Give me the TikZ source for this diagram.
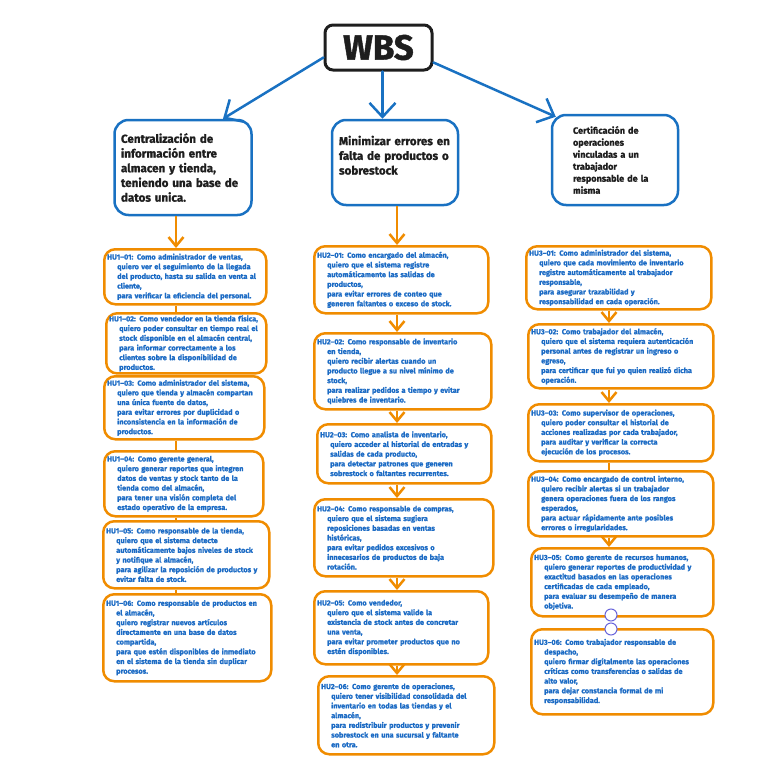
\documentclass[tikz,border=0pt]{standalone}
\usepackage{fontspec}
\setmainfont{Fira Sans}[BoldFeatures={FakeBold=1.2}]
\usetikzlibrary{arrows.meta, positioning}

\definecolor{wbsblue}{HTML}{1971C2}
\definecolor{huorange}{HTML}{F08C00}
\definecolor{hublue}{HTML}{1C6BC4}
\definecolor{inkblack}{HTML}{1E1E1E}
\definecolor{handleviolet}{HTML}{6965DB}
\newcommand{\hutab}{\hspace*{10pt}}

\begin{document}
\begin{tikzpicture}[x=1pt, y=-1pt,
  wbsbox/.style={draw=inkblack, line width=3pt, rounded corners=8pt, fill=white,
    text=inkblack, font=\bfseries\fontsize{35}{35}\selectfont},
  topbox/.style={draw=wbsblue, line width=2.5pt, rounded corners=14pt, align=left,
    text=inkblack, font=\bfseries\fontsize{11.6}{14.7}\selectfont},
  hubox/.style={draw=huorange, line width=2.5pt, rounded corners=11pt, align=left,
    anchor=north west, inner xsep=3pt, inner ysep=2pt, text=hublue,
    font=\bfseries\fontsize{7.3}{9.7}\selectfont},
  bluearrow/.style={wbsblue, line width=2.5pt, line cap=round,
    -{Straight Barb[length=14pt, width=26pt]}},
  orangearrow/.style={huorange, line width=2.5pt,
    -{Straight Barb[length=9pt, width=15pt]}},
  orangeline/.style={huorange, line width=2.5pt},
  handle/.style={circle, draw=handleviolet, line width=1pt, fill=white,
    minimum size=12pt, inner sep=0pt}]
  \useasboundingbox (0,0) rectangle (772,771);

  % Root and the three goals
  \node[wbsbox, minimum width=107, minimum height=45] (wbs) at (378.5,47.5) {WBS};
  \node[topbox, text width=124, minimum width=137, minimum height=95] (hua) at (183,167.5)
    {Centralización de\\información entre\\almacen y tienda,\\teniendo una base de\\datos unica.};
  \node[topbox, text width=112, minimum width=126, minimum height=85] (hub) at (395,162.5)
    {Minimizar errores en\\falta de productos o\\sobrestock\\ \mbox{}};
  \node[topbox, text width=84, minimum width=126, minimum height=90,
    font=\bfseries\fontsize{9.1}{12}\selectfont] (huc) at (615,160)
    {Certificación de\\operaciones\\vinculadas a un\\trabajador\\responsable de la\\misma};

  \draw[bluearrow] ([yshift=-10pt]wbs.west) -- ([xshift=40pt]hua.north);
  \draw[bluearrow] ([xshift=4pt]wbs.south) -- ([xshift=4pt]wbs.south |- hub.north);
  \draw[bluearrow] ([yshift=-15pt]wbs.east) -- ([xshift=5pt,yshift=-3pt]huc.north west);

  % Column 1
  \node[hubox, text width=156, minimum height=55] (hu11) at (103,248)
    {HU1–01: Como administrador de ventas,\\
     \hutab quiero ver el seguimiento de la llegada\\
     \hutab del producto, hasta su salida en venta al\\
     \hutab cliente,\\
     \hutab para verificar la eficiencia del personal.};
  \node[hubox, text width=154, minimum height=60] (hu12) at (105,312)
    {HU1–02: Como vendedor en la tienda física,\\
     \hutab quiero poder consultar en tiempo real el\\
     \hutab stock disponible en el almacén central,\\
     \hutab para informar correctamente a los\\
     \hutab clientes sobre la disponibilidad de\\
     \hutab productos.};
  \node[hubox, text width=154, minimum height=63] (hu13) at (103,375)
    {HU1–03: Como administrador del sistema,\\
     \hutab quiero que tienda y almacén compartan\\
     \hutab una única fuente de datos,\\
     \hutab para evitar errores por duplicidad o\\
     \hutab inconsistencia en la información de\\
     \hutab productos.};
  \node[hubox, text width=153, minimum height=65] (hu14) at (103,450)
    {HU1–04: Como gerente general,\\
     \hutab quiero generar reportes que integren\\
     \hutab datos de ventas y stock tanto de la\\
     \hutab tienda como del almacén,\\
     \hutab para tener una visión completa del\\
     \hutab estado operativo de la empresa.};
  \node[hubox, text width=160, minimum height=67] (hu15) at (102,520)
    {HU1–05: Como responsable de la tienda,\\
     \hutab quiero que el sistema detecte\\
     \hutab automáticamente bajos niveles de stock\\
     \hutab y notifique al almacén,\\
     \hutab para agilizar la reposición de productos y\\
     \hutab evitar falta de stock.};
  \node[hubox, text width=162, minimum height=87] (hu16) at (102,593)
    {HU1–06: Como responsable de productos en\\
     \hutab el almacén,\\
     \hutab quiero registrar nuevos artículos\\
     \hutab directamente en una base de datos\\
     \hutab compartida,\\
     \hutab para que estén disponibles de inmediato\\
     \hutab en el sistema de la tienda sin duplicar\\
     \hutab procesos.};

  % Column 2
  \node[hubox, text width=168, minimum height=67] (hu21) at (313,245)
    {HU2–01: Como encargado del almacén,\\
     \hutab quiero que el sistema registre\\
     \hutab automáticamente las salidas de\\
     \hutab productos,\\
     \hutab para evitar errores de conteo que\\
     \hutab generen faltantes o exceso de stock.};
  \node[hubox, text width=171, minimum height=76] (hu22) at (313,332)
    {HU2–02: Como responsable de inventario\\
     \hutab en tienda,\\
     \hutab quiero recibir alertas cuando un\\
     \hutab producto llegue a su nivel mínimo de\\
     \hutab stock,\\
     \hutab para realizar pedidos a tiempo y evitar\\
     \hutab quiebres de inventario.};
  \node[hubox, text width=168, minimum height=59] (hu23) at (316,423)
    {HU2–03: Como analista de inventario,\\
     \hutab quiero acceder al historial de entradas y\\
     \hutab salidas de cada producto,\\
     \hutab para detectar patrones que generen\\
     \hutab sobrestock o faltantes recurrentes.};
  \node[hubox, text width=173, minimum height=77] (hu24) at (313,498)
    {HU2–04: Como responsable de compras,\\
     \hutab quiero que el sistema sugiera\\
     \hutab reposiciones basadas en ventas\\
     \hutab históricas,\\
     \hutab para evitar pedidos excesivos o\\
     \hutab innecesarios de productos de baja\\
     \hutab rotación.};
  \node[hubox, text width=168, minimum height=73] (hu25) at (313,590)
    {HU2–05: Como vendedor,\\
     \hutab quiero que el sistema valide la\\
     \hutab existencia de stock antes de concretar\\
     \hutab una venta,\\
     \hutab para evitar prometer productos que no\\
     \hutab estén disponibles.};
  \node[hubox, text width=170, minimum height=78] (hu26) at (317,675)
    {HU2–06: Como gerente de operaciones,\\
     \hutab quiero tener visibilidad consolidada del\\
     \hutab inventario en todas las tiendas y el\\
     \hutab almacén,\\
     \hutab para redistribuir productos y prevenir\\
     \hutab sobrestock en una sucursal y faltante\\
     \hutab en otra.};

  % Column 3
  \node[hubox, text width=179, minimum height=63] (hu31) at (525,245)
    {HU3–01: Como administrador del sistema,\\
     \hutab quiero que cada movimiento de inventario\\
     \hutab registre automáticamente al trabajador\\
     \hutab responsable,\\
     \hutab para asegurar trazabilidad y\\
     \hutab responsabilidad en cada operación.};
  \node[hubox, text width=179, minimum height=64] (hu32) at (527,323)
    {HU3–02: Como trabajador del almacén,\\
     \hutab quiero que el sistema requiera autenticación\\
     \hutab personal antes de registrar un ingreso o\\
     \hutab egreso,\\
     \hutab para certificar que fui yo quien realizó dicha\\
     \hutab operación.};
  \node[hubox, text width=179, minimum height=57] (hu33) at (527,403)
    {HU3–03: Como supervisor de operaciones,\\
     \hutab quiero poder consultar el historial de\\
     \hutab acciones realizadas por cada trabajador,\\
     \hutab para auditar y verificar la correcta\\
     \hutab ejecución de los procesos.};
  \node[hubox, text width=179, minimum height=65] (hu34) at (527,470)
    {HU3–04: Como encargado de control interno,\\
     \hutab quiero recibir alertas si un trabajador\\
     \hutab genera operaciones fuera de los rangos\\
     \hutab esperados,\\
     \hutab para actuar rápidamente ante posibles\\
     \hutab errores o irregularidades.};
  \node[hubox, text width=176, minimum height=68] (hu35) at (530,547)
    {HU3–05: Como gerente de recursos humanos,\\
     \hutab quiero generar reportes de productividad y\\
     \hutab exactitud basados en las operaciones\\
     \hutab certificadas de cada empleado,\\
     \hutab para evaluar su desempeño de manera\\
     \hutab objetiva.};
  \node[hubox, text width=176, minimum height=85] (hu36) at (530,628)
    {HU3–06: Como trabajador responsable de\\
     \hutab despacho,\\
     \hutab quiero firmar digitalmente las operaciones\\
     \hutab críticas como transferencias o salidas de\\
     \hutab alto valor,\\
     \hutab para dejar constancia formal de mi\\
     \hutab responsabilidad.};

  % Orange links down each column
  \coordinate (c1) at (176,0);
  \coordinate (c2) at (397,0);
  \coordinate (c3) at (609,0);
  \draw[orangearrow] (hua.south -| c1) -- (hu11.north -| c1);
  \draw[orangeline] (hu11.south -| c1) -- (hu12.north -| c1);
  \draw[orangeline] (hu12.south -| c1) -- (hu13.north -| c1);
  \draw[orangeline] (hu13.south -| c1) -- (hu14.north -| c1);
  \draw[orangeline] (hu14.south -| c1) -- (hu15.north -| c1);
  \draw[orangeline] (hu15.south -| c1) -- (hu16.north -| c1);

  \draw[orangearrow] (hub.south -| c2) -- (hu21.north -| c2);
  \draw[orangearrow] (hu21.south -| c2) -- (hu22.north -| c2);
  \draw[orangearrow] (hu22.south -| c2) -- (hu23.north -| c2);
  \draw[orangearrow] (hu23.south -| c2) -- (hu24.north -| c2);
  \draw[orangearrow] (hu24.south -| c2) -- (hu25.north -| c2);
  \draw[orangearrow] (hu25.south -| c2) -- (hu26.north -| c2);

  \draw[orangearrow] (hu31.south -| c3) -- (hu32.north -| c3);
  \draw[orangearrow] (hu32.south -| c3) -- (hu33.north -| c3);
  \draw[orangeline] (hu33.south -| c3) -- (hu34.north -| c3);
  \draw[orangearrow] (hu34.south -| c3) -- (hu35.north -| c3);

  % Selection handles between HU3-05 and HU3-06
  \node[handle] (hdla) at (611,615) {};
  \node[handle] (hdlb) at (611,629) {};
\end{tikzpicture}
\end{document}
